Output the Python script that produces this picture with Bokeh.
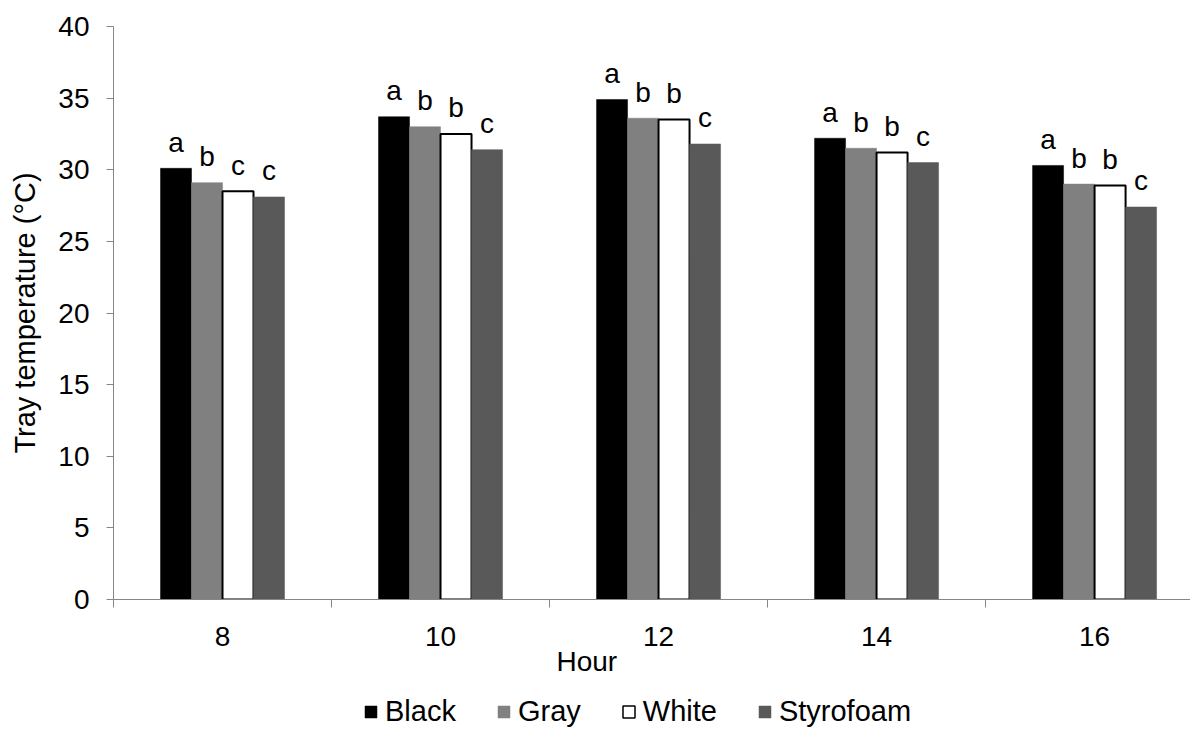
from bokeh.plotting import figure
from bokeh.layouts import column
from bokeh.models import FixedTicker, Legend, LegendItem, ColumnDataSource, Range1d, Title
from bokeh.embed import file_html
from bokeh.resources import INLINE
from bokeh.core.properties import value

# ---- data ----
hours = ["8", "10", "12", "14", "16"]
series = ["Black", "Gray", "White", "Styrofoam"]
black = [30.1, 33.7, 34.9, 32.2, 30.3]
gray = [29.1, 33.0, 33.6, 31.5, 29.0]
white = [28.5, 32.5, 33.5, 31.2, 28.9]
styrofoam = [28.1, 31.4, 31.8, 30.5, 27.4]
letters_black = ["a", "a", "a", "a", "a"]
letters_gray = ["b", "b", "b", "b", "b"]
letters_white = ["c", "b", "b", "b", "b"]
letters_styro = ["c", "c", "c", "c", "c"]

fills = ["#000000", "#808080", "#ffffff", "#595959"]
lines = [None, None, "#000000", None]
FONT = "Liberation Sans"
AXIS_COLOR = "#868686"
FS = "28px"

values_all = [black, gray, white, styrofoam]
letters_all = [letters_black, letters_gray, letters_white, letters_styro]

W = 1190
H1 = 679
H2 = 729 - H1

p = figure(width=W, height=H1, output_backend="svg", toolbar_location=None,
           x_range=Range1d(0, 4.94), y_range=Range1d(0, 40),
           min_border_left=113, min_border_right=0, min_border_top=26,
           min_border_bottom=H1 - 599)
p.title.visible = False
p.outline_line_color = None
p.grid.visible = False
p.background_fill_color = "white"
p.border_fill_color = "white"

bw = 0.1422
for k, (vals, lets) in enumerate(zip(values_all, letters_all)):
    xs = [i + 0.5 + (k - 1.5) * bw for i in range(len(hours))]
    src = ColumnDataSource(dict(x=xs, top=vals, lab=lets))
    p.vbar(x="x", top="top", bottom=0, width=bw, source=src,
           fill_color=fills[k],
           line_color=lines[k] if lines[k] else fills[k],
           line_width=2 if lines[k] else 0.5)
    p.text(x="x", y="top", text="lab", source=src, text_align="center",
           text_baseline="alphabetic", y_offset=-26,
           text_font=value(FONT), text_font_size=FS, text_color="#000000")

# y axis
yax = p.yaxis[0]
yax.ticker = FixedTicker(ticks=[0, 5, 10, 15, 20, 25, 30, 35, 40])
yax.axis_line_color = AXIS_COLOR
yax.major_tick_line_color = AXIS_COLOR
yax.major_tick_in = 0
yax.major_tick_out = 7
yax.minor_tick_line_color = None
yax.major_label_text_font = FONT
yax.major_label_text_font_size = FS
yax.major_label_text_color = "#000000"
yax.major_label_standoff = 17
yax.axis_label = "Tray temperature (°C)"
yax.axis_label_text_font = FONT
yax.axis_label_text_font_size = "29px"
yax.axis_label_text_font_style = "normal"
yax.axis_label_text_color = "#000000"
yax.axis_label_standoff = 14

# x axis
xax = p.xaxis[0]
xax.ticker = FixedTicker(ticks=[i + 0.5 for i in range(len(hours))],
                         minor_ticks=list(range(len(hours) + 1)))
xax.major_label_overrides = {i + 0.5: h for i, h in enumerate(hours)}
xax.axis_line_color = AXIS_COLOR
xax.major_tick_line_color = None
xax.minor_tick_line_color = AXIS_COLOR
xax.minor_tick_in = 0
xax.minor_tick_out = 8
xax.major_label_text_font = FONT
xax.major_label_text_font_size = FS
xax.major_label_text_color = "#000000"
xax.major_label_standoff = 19

# x-axis title, placed below the axis and shifted left as in the reference
hour_title = Title(text="Hour", align="left", offset=443,
                   text_font=FONT, text_font_size=FS, text_font_style="normal",
                   text_color="#000000", standoff=-10)
p.add_layout(hour_title, "below")

# legend strip
q = figure(width=W, height=H2, output_backend="svg", toolbar_location=None,
           x_range=Range1d(0, 1), y_range=Range1d(0, 1),
           min_border=0, x_axis_location=None, y_axis_location=None)
q.title.visible = False
q.outline_line_color = None
q.grid.visible = False
q.border_fill_color = "white"
items = []
for k, s in enumerate(series):
    # zero-size proxy bar, only used for the legend swatch
    r = q.vbar(x=[0.5], bottom=[0.5], top=[0.5], width=0, fill_color=fills[k],
               line_color=lines[k] if lines[k] else fills[k],
               line_width=1.5 if lines[k] else 0.5)
    items.append(LegendItem(label=s, renderers=[r]))
legend = Legend(items=items, orientation="horizontal", location=(250, 1),
                border_line_color=None, background_fill_alpha=0,
                label_text_font=FONT, label_text_font_size="29px",
                label_text_color="#000000",
                glyph_width=15, glyph_height=15, label_standoff=7,
                spacing=40, padding=0, margin=0)
q.add_layout(legend, "center")

layout = column(p, q, spacing=0)
open("out.html", "w").write(file_html(layout, INLINE))
